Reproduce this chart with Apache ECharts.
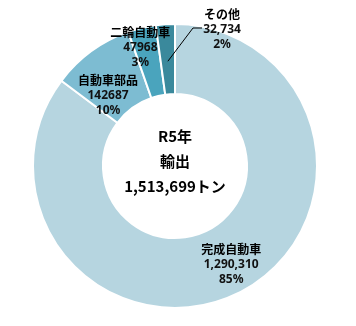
<!DOCTYPE html>
<html>
<head>
<meta charset="utf-8">
<script src="https://cdn.jsdelivr.net/npm/echarts@6/dist/echarts.min.js"></script>
<style>
html,body{margin:0;padding:0;background:#fff;}
#c{width:356px;height:326px;}
</style>
</head>
<body>
<div id="c"></div>
<script>
var categories = ['完成自動車', '自動車部品', '二輪自動車', 'その他'];
var values = [1290310, 142687, 47968, 32734];
var valueLabels = ['1,290,310', '142687', '47968', '32,734'];
var percentLabels = ['85%', '10%', '3%', '2%'];
var colors = ['#b6d5e0', '#7dbcd2', '#4aa4bd', '#3a899c'];
var centerLines = ['R5年', '輸出', '1,513,699トン'];

var chart = echarts.init(document.getElementById('c'));
var cx = 175, cy = 166, rOut = 142, rIn = 72;
var total = values.reduce(function(a, b){ return a + b; }, 0);
function midAngle(i){
  var s = 0; for (var k = 0; k < i; k++) s += values[k];
  return (s + values[i] / 2) / total * 2 * Math.PI;
}
var offsets = [[7, 0], [-2, 18], [-9, -12]];

var data = categories.map(function(name, i){
  return { name: name, value: values[i], itemStyle: { color: colors[i] } };
});

var a3 = midAngle(3);
var r0 = 105;
var sx = cx + r0 * Math.sin(a3), sy = cy - r0 * Math.cos(a3);

chart.setOption({
  animation: false,
  series: [{
    type: 'pie',
    center: [cx, cy],
    radius: [rIn, rOut],
    startAngle: 90,
    clockwise: true,
    avoidLabelOverlap: false,
    itemStyle: { borderColor: '#fff', borderWidth: 2 },
    label: {
      show: true,
      position: 'inside',
      formatter: function(p){
        return '{n|' + p.name + '}\n{v|' + valueLabels[p.dataIndex] + '}\n{v|' + percentLabels[p.dataIndex] + '}';
      },
      rich: {
        n: { fontFamily: 'Noto Sans CJK JP', fontWeight: 'bold', fontSize: 12, color: '#000', lineHeight: 16, align: 'center' },
        v: { fontFamily: 'Noto Sans', fontWeight: 'bold', fontSize: 12, color: '#111', lineHeight: 15, align: 'center' }
      }
    },
    labelLine: { show: false },
    labelLayout: function(params){
      var i = params.dataIndex;
      if (i < 3) {
        return { dx: offsets[i][0], dy: offsets[i][1] };
      }
      return { x: 222, y: 29, align: 'center', verticalAlign: 'middle' };
    },
    data: data
  }],
  graphic: [{
    type: 'polyline',
    shape: { points: [[sx, sy], [193, 28], [202, 28]] },
    style: { stroke: '#000', lineWidth: 1, fill: null },
    z: 10
  }, {
    type: 'text',
    x: cx,
    y: cy - 5,
    style: {
      text: centerLines.join('\n'),
      fontFamily: 'Noto Sans CJK JP',
      fontWeight: 'bold',
      fontSize: 15,
      lineHeight: 25,
      fill: '#000',
      align: 'center',
      verticalAlign: 'middle'
    },
    z: 10
  }]
});
</script>
</body>
</html>
